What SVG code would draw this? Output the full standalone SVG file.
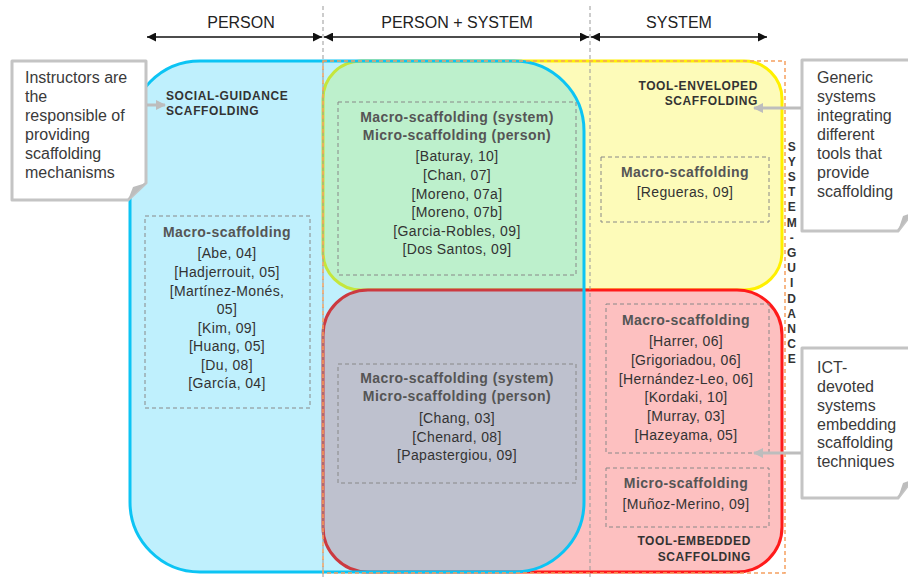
<svg xmlns="http://www.w3.org/2000/svg" width="908" height="578" viewBox="0 0 908 578">
<style>
.hdr{font-family:"Liberation Sans",Arial,sans-serif;font-size:16px;fill:#222;text-anchor:middle}
.lbl{font-family:"Liberation Sans",Arial,sans-serif;font-size:12px;font-weight:bold;fill:#333;letter-spacing:0.6px}
.sub{font-family:"Liberation Sans",Arial,sans-serif;font-size:14px;font-weight:bold;fill:#555;text-anchor:middle;letter-spacing:0.45px}
.ref{font-family:"Liberation Sans",Arial,sans-serif;font-size:14px;fill:#333;text-anchor:middle;letter-spacing:0.35px}
.call{font-family:"Liberation Sans",Arial,sans-serif;font-size:16px;fill:#3a3a3a}
.inner{fill:none;stroke:#888;stroke-width:1;stroke-dasharray:4,3}
.div{stroke:#999;stroke-width:1;stroke-dasharray:4,3;fill:none}
.dim{stroke:#111;stroke-width:1.5;fill:none;marker-start:url(#ah);marker-end:url(#ah)}
.ptr{stroke:#bdbdbd;stroke-width:3;fill:none;marker-end:url(#gh)}
.box{fill:#fff;stroke:#c4c4c4;stroke-width:3;stroke-linejoin:round}
.fold{fill:#bdbdbd;stroke:none}
</style>
<defs>
<marker id="ah" viewBox="0 0 10 10" refX="10" refY="5" markerWidth="10" markerHeight="9" markerUnits="userSpaceOnUse" orient="auto-start-reverse">
<path d="M0,0 L10,5 L0,10 Z" fill="#111"/>
</marker>
<marker id="gh" viewBox="0 0 10 10" refX="9" refY="5" markerWidth="10" markerHeight="12" markerUnits="userSpaceOnUse" orient="auto">
<path d="M0,0 L10,5 L0,10 Z" fill="#bdbdbd"/>
</marker>
<clipPath id="blueClip"><rect x="130" y="61" width="454" height="511" rx="70"/></clipPath>
</defs>

<g id="tool-enveloped">
<rect x="323" y="61" width="459" height="229" rx="38" fill="#fdfbb9" stroke="#fff000" stroke-width="3"/>
</g>
<g id="tool-embedded">
<rect x="323" y="290" width="459" height="282" rx="45" fill="#fdc0c0" stroke="#ff1a1a" stroke-width="3"/>
</g>
<g id="social-guidance">
<rect x="130" y="61" width="454" height="511" rx="70" fill="#bff0fd"/>
<g clip-path="url(#blueClip)">
<rect x="323" y="61" width="459" height="229" rx="38" fill="#bdf0cc" stroke="#c5e63c" stroke-width="3"/>
<rect x="323" y="290" width="459" height="282" rx="45" fill="#bec1ce" stroke="#cc3a40" stroke-width="3"/>
</g>
<rect x="130" y="61" width="454" height="511" rx="70" fill="none" stroke="#0cc4f4" stroke-width="3"/>
</g>

<g id="dividers">
<line class="div" x1="323" y1="6" x2="323" y2="578"/>
<line class="div" x1="590" y1="6" x2="590" y2="578"/>
<rect x="323" y="61" width="462" height="512" fill="none" stroke="#f5a060" stroke-width="1.5" stroke-dasharray="4,3"/>
</g>

<g id="headers">
<text class="hdr" x="241" y="28">PERSON</text>
<text class="hdr" x="457" y="28">PERSON + SYSTEM</text>
<text class="hdr" x="679" y="28">SYSTEM</text>
</g>

<g id="labels">
<text class="lbl" x="166" y="100">SOCIAL-GUIDANCE</text>
<text class="lbl" x="166" y="115">SCAFFOLDING</text>
<text class="lbl" x="758" y="90" text-anchor="end">TOOL-ENVELOPED</text>
<text class="lbl" x="758" y="105" text-anchor="end">SCAFFOLDING</text>
<text class="lbl" x="751" y="545" text-anchor="end">TOOL-EMBEDDED</text>
<text class="lbl" x="751" y="561" text-anchor="end">SCAFFOLDING</text>
<text class="lbl" text-anchor="middle" x="792" y="150.5">S<tspan x="792" dy="15.2">Y</tspan><tspan x="792" dy="15.2">S</tspan><tspan x="792" dy="15.2">T</tspan><tspan x="792" dy="15.2">E</tspan><tspan x="792" dy="15.2">M</tspan><tspan x="792" dy="15.2">-</tspan><tspan x="792" dy="15.2">G</tspan><tspan x="792" dy="15.2">U</tspan><tspan x="792" dy="15.2">I</tspan><tspan x="792" dy="15.2">D</tspan><tspan x="792" dy="15.2">A</tspan><tspan x="792" dy="15.2">N</tspan><tspan x="792" dy="15.2">C</tspan><tspan x="792" dy="15.2">E</tspan></text>
</g>

<g id="box-person">
<rect class="inner" x="145" y="216" width="165" height="192"/>
<text class="sub" x="227" y="237">Macro-scaffolding</text>
<text class="ref" x="227" y="258">[Abe, 04]</text>
<text class="ref" x="227" y="277">[Hadjerrouit, 05]</text>
<text class="ref" x="227" y="296">[Martínez-Monés,</text>
<text class="ref" x="227" y="314">05]</text>
<text class="ref" x="227" y="333">[Kim, 09]</text>
<text class="ref" x="227" y="351">[Huang, 05]</text>
<text class="ref" x="227" y="370">[Du, 08]</text>
<text class="ref" x="227" y="388">[García, 04]</text>
</g>

<g id="box-person-system-enveloped">
<rect class="inner" x="338" y="102" width="238" height="173"/>
<text class="sub" x="457" y="122">Macro-scaffolding (system)</text>
<text class="sub" x="457" y="140">Micro-scaffolding (person)</text>
<text class="ref" x="457" y="161">[Baturay, 10]</text>
<text class="ref" x="457" y="180">[Chan, 07]</text>
<text class="ref" x="457" y="199">[Moreno, 07a]</text>
<text class="ref" x="457" y="217">[Moreno, 07b]</text>
<text class="ref" x="457" y="236">[Garcia-Robles, 09]</text>
<text class="ref" x="457" y="254">[Dos Santos, 09]</text>
</g>

<g id="box-system-enveloped">
<rect class="inner" x="601" y="157" width="168" height="65"/>
<text class="sub" x="685" y="177">Macro-scaffolding</text>
<text class="ref" x="685" y="197">[Regueras, 09]</text>
</g>

<g id="box-person-system-embedded">
<rect class="inner" x="338" y="364" width="238" height="119"/>
<text class="sub" x="457" y="383">Macro-scaffolding (system)</text>
<text class="sub" x="457" y="401">Micro-scaffolding (person)</text>
<text class="ref" x="457" y="423">[Chang, 03]</text>
<text class="ref" x="457" y="442">[Chenard, 08]</text>
<text class="ref" x="457" y="460">[Papastergiou, 09]</text>
</g>

<g id="box-system-embedded-macro">
<rect class="inner" x="606" y="304" width="163" height="149"/>
<text class="sub" x="686" y="325">Macro-scaffolding</text>
<text class="ref" x="686" y="346">[Harrer, 06]</text>
<text class="ref" x="686" y="365">[Grigoriadou, 06]</text>
<text class="ref" x="686" y="384">[Hernández-Leo, 06]</text>
<text class="ref" x="686" y="402">[Kordaki, 10]</text>
<text class="ref" x="686" y="421">[Murray, 03]</text>
<text class="ref" x="686" y="440">[Hazeyama, 05]</text>
</g>

<g id="box-system-embedded-micro">
<rect class="inner" x="606" y="468" width="163" height="59"/>
<text class="sub" x="686" y="488">Micro-scaffolding</text>
<text class="ref" x="686" y="509">[Muñoz-Merino, 09]</text>
</g>

<g id="callout-instructors">
<path class="box" d="M12,61 H146 V183 L128,200 H12 Z"/>
<path class="fold" d="M146,183 L133,187 L128,200 Z"/>
<text class="call" x="25" y="83">Instructors are</text>
<text class="call" x="25" y="102">the</text>
<text class="call" x="25" y="121">responsible of</text>
<text class="call" x="25" y="140">providing</text>
<text class="call" x="25" y="159">scaffolding</text>
<text class="call" x="25" y="178">mechanisms</text>
</g>

<g id="callout-generic">
<path class="box" d="M802,60 H912 V213 L898,231 H802 Z"/>
<path class="fold" d="M912,213 L903,216 L898,231 Z"/>
<text class="call" x="817" y="83">Generic</text>
<text class="call" x="817" y="102">systems</text>
<text class="call" x="817" y="121">integrating</text>
<text class="call" x="817" y="140">different</text>
<text class="call" x="817" y="159">tools that</text>
<text class="call" x="817" y="178">provide</text>
<text class="call" x="817" y="197">scaffolding</text>
</g>

<g id="callout-ict">
<path class="box" d="M802,348 H912 V480 L898,498 H802 Z"/>
<path class="fold" d="M912,480 L903,483 L898,498 Z"/>
<text class="call" x="817" y="373">ICT-</text>
<text class="call" x="817" y="392">devoted</text>
<text class="call" x="817" y="411">systems</text>
<text class="call" x="817" y="430">embedding</text>
<text class="call" x="817" y="448">scaffolding</text>
<text class="call" x="817" y="467">techniques</text>
</g>

<g id="connectors">
<line class="dim" x1="147" y1="37" x2="322" y2="37"/>
<line class="dim" x1="324" y1="37" x2="589" y2="37"/>
<line class="dim" x1="591" y1="37" x2="767" y2="37"/>
<line class="ptr" x1="147" y1="105" x2="165" y2="105"/>
<line class="ptr" x1="801" y1="108" x2="754" y2="108"/>
<line class="ptr" x1="801" y1="453" x2="754" y2="453"/>
</g>
</svg>
